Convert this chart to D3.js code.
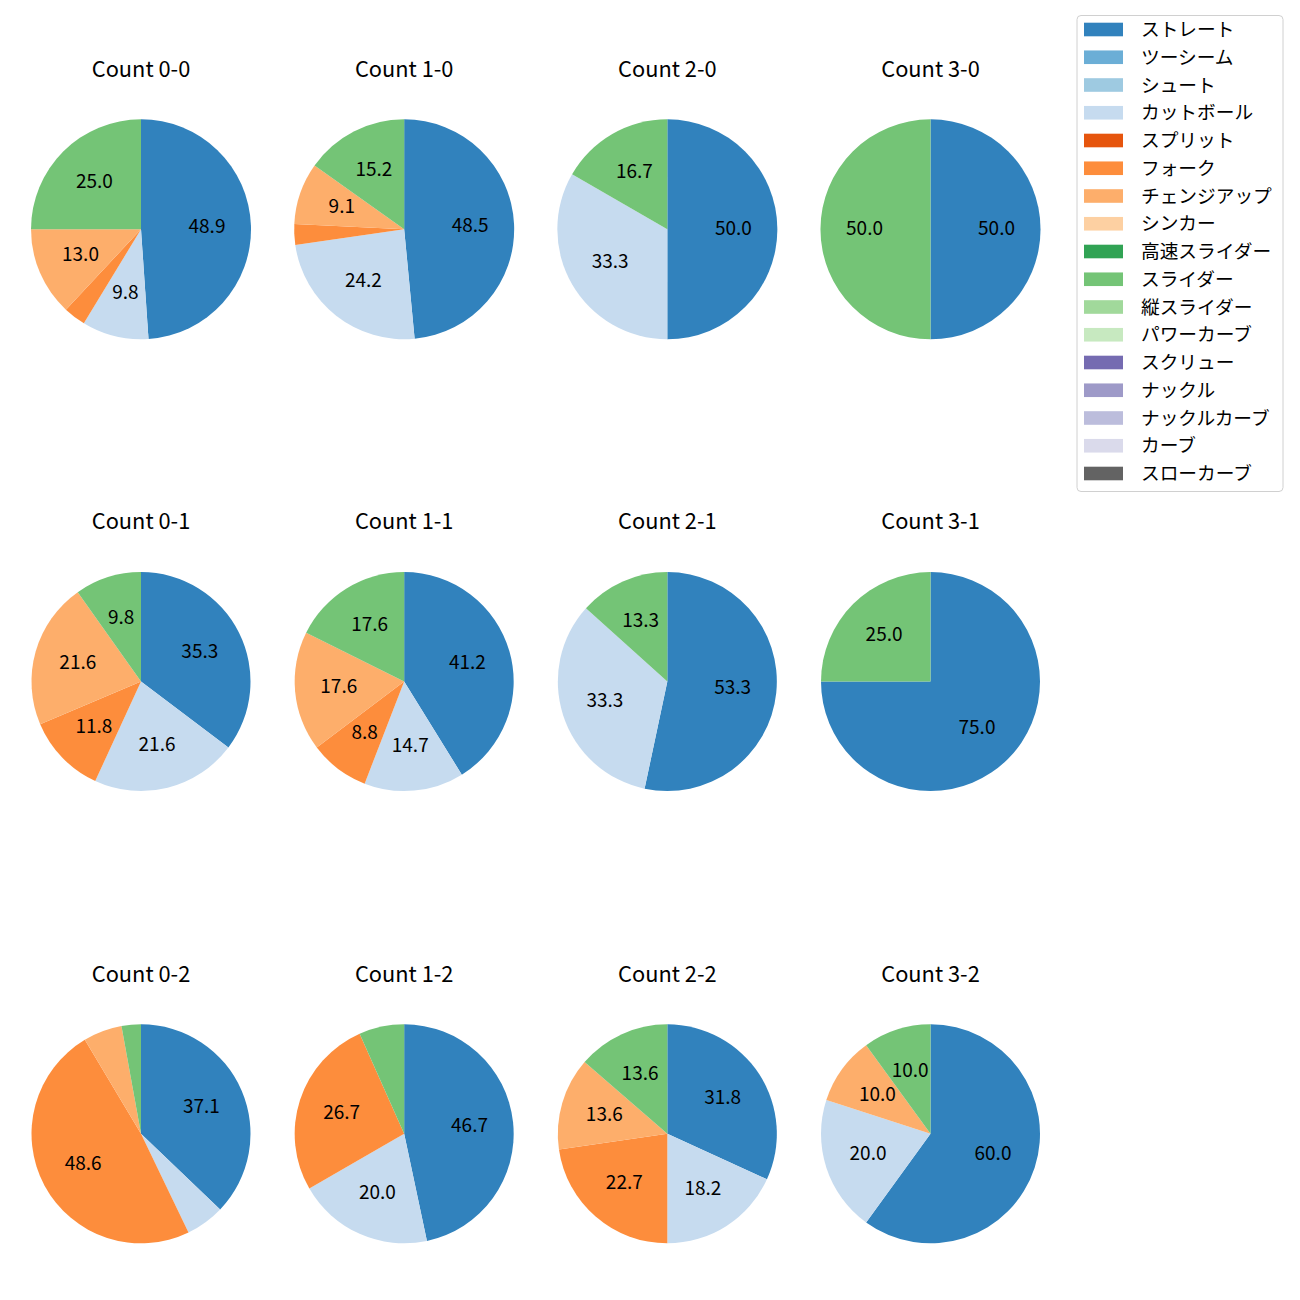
<!DOCTYPE html>
<html>
<head>
<meta charset="utf-8">
<script src="https://cdn.jsdelivr.net/npm/d3@7"></script>
<style>
  html, body { margin: 0; padding: 0; background: #fff; }
  svg { display: block; font-family: "Noto Sans CJK JP", "Noto Sans", sans-serif; }
</style>
</head>
<body>
<svg id="chart" width="1300" height="1300"></svg>
<script>
// Pitch types (legend order) and their colours (tab20c)
const pitchTypes = ["ストレート","ツーシーム","シュート","カットボール","スプリット","フォーク","チェンジアップ","シンカー","高速スライダー","スライダー","縦スライダー","パワーカーブ","スクリュー","ナックル","ナックルカーブ","カーブ","スローカーブ"];
const pitchColors = ["#3182bd","#6baed6","#9ecae1","#c6dbef","#e6550d","#fd8d3c","#fdae6b","#fdd0a2","#31a354","#74c476","#a1d99b","#c7e9c0","#756bb1","#9e9ac8","#bcbddc","#dadaeb","#636363"];

// Count labels in grid order (row by row)
const countLabels = ["0-0","1-0","2-0","3-0","0-1","1-1","2-1","3-1","0-2","1-2","2-2","3-2"];

// Pitch counts per count situation (same order as pitchTypes)
//              ストレ ツー シュ カット スプ フォ チェン シン 高速 スラ 縦ス パワ スク ナッ ナカ カー スロ
const count00 = [45, 0, 0,  9, 0,  3, 12, 0, 0, 23, 0, 0, 0, 0, 0, 0, 0];
const count10 = [16, 0, 0,  8, 0,  1,  3, 0, 0,  5, 0, 0, 0, 0, 0, 0, 0];
const count20 = [ 3, 0, 0,  2, 0,  0,  0, 0, 0,  1, 0, 0, 0, 0, 0, 0, 0];
const count30 = [ 1, 0, 0,  0, 0,  0,  0, 0, 0,  1, 0, 0, 0, 0, 0, 0, 0];
const count01 = [18, 0, 0, 11, 0,  6, 11, 0, 0,  5, 0, 0, 0, 0, 0, 0, 0];
const count11 = [14, 0, 0,  5, 0,  3,  6, 0, 0,  6, 0, 0, 0, 0, 0, 0, 0];
const count21 = [ 8, 0, 0,  5, 0,  0,  0, 0, 0,  2, 0, 0, 0, 0, 0, 0, 0];
const count31 = [ 3, 0, 0,  0, 0,  0,  0, 0, 0,  1, 0, 0, 0, 0, 0, 0, 0];
const count02 = [13, 0, 0,  2, 0, 17,  2, 0, 0,  1, 0, 0, 0, 0, 0, 0, 0];
const count12 = [ 7, 0, 0,  3, 0,  4,  0, 0, 0,  1, 0, 0, 0, 0, 0, 0, 0];
const count22 = [ 7, 0, 0,  4, 0,  5,  3, 0, 0,  3, 0, 0, 0, 0, 0, 0, 0];
const count32 = [ 6, 0, 0,  2, 0,  0,  1, 0, 0,  1, 0, 0, 0, 0, 0, 0, 0];

const countValues = [count00,count10,count20,count30,count01,count11,count21,count31,count02,count12,count22,count32];

const svg = d3.select("#chart");

const colScale = d3.scaleLinear().domain([0, 3]).range([141, 930.5]);
const rowScale = d3.scaleLinear().domain([0, 2]).range([229.3, 1133.8]);
const color = d3.scaleOrdinal().domain(pitchTypes).range(pitchColors);

const pie = d3.pie().sort(null).value(d => d.v)
  .startAngle(0).endAngle(2 * Math.PI);

countLabels.forEach((lab, i) => {
  const col = i % 4, row = Math.floor(i / 4);
  const cx = colScale(col), cy = rowScale(row);
  const r = row === 0 ? 110 : 109.5;
  const data = pitchTypes.map((p, k) => ({ p, v: countValues[i][k] })).filter(d => d.v > 0);
  const total = d3.sum(data, d => d.v);
  const arcs = pie(data);
  const arc = d3.arc().innerRadius(0).outerRadius(r);
  const labelArc = d3.arc().innerRadius(r * 0.6).outerRadius(r * 0.6);

  const g = svg.append("g").attr("transform", `translate(${cx},${cy})`);
  g.selectAll("path").data(arcs).join("path")
    .attr("d", arc)
    .attr("fill", d => color(d.data.p));

  g.selectAll("text.pct").data(arcs.filter(d => d.data.v / total * 100 >= 7)).join("text")
    .attr("class", "pct")
    .attr("transform", d => `translate(${labelArc.centroid(d)})`)
    .attr("text-anchor", "middle")
    .attr("dominant-baseline", "central")
    .attr("dy", -3)
    .attr("font-size", 19)
    .attr("fill", "#000")
    .text(d => (d.data.v / total * 100).toFixed(1));

  svg.append("text")
    .attr("x", cx)
    .attr("y", cy - r - 42.6)
    .attr("text-anchor", "middle")
    .attr("font-size", 21.8)
    .attr("fill", "#000")
    .text("Count " + lab);
});

// Legend
const legend = svg.append("g");
legend.append("rect")
  .attr("x", 1077).attr("y", 15.5)
  .attr("width", 206).attr("height", 476)
  .attr("rx", 4).attr("ry", 4)
  .attr("fill", "#fff").attr("stroke", "#d0d0d0").attr("stroke-width", 1);

const legY = d3.scaleLinear().domain([0, pitchTypes.length - 1]).range([29.5, 473.5]);
const items = legend.selectAll("g.item").data(pitchTypes).join("g")
  .attr("class", "item")
  .attr("transform", (d, k) => `translate(0,${legY(k)})`);
items.append("rect")
  .attr("x", 1084).attr("y", -6.8)
  .attr("width", 39).attr("height", 13.6)
  .attr("fill", d => color(d));
items.append("text")
  .attr("x", 1141).attr("y", 0)
  .attr("dominant-baseline", "central")
  .attr("dy", -2)
  .attr("font-size", 18.7)
  .attr("fill", "#000")
  .text(d => d);
</script>
</body>
</html>
